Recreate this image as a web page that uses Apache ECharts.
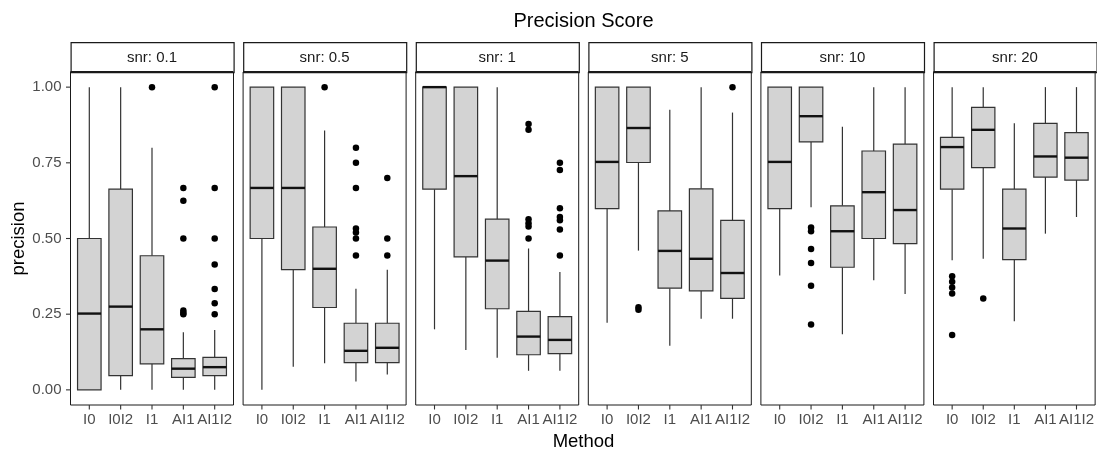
<!DOCTYPE html>
<html>
<head>
<meta charset="utf-8">
<script src="https://cdn.jsdelivr.net/npm/echarts@6/dist/echarts.min.js"></script>
<style>
  html, body { margin: 0; padding: 0; background: #ffffff; }
  #chart { width: 1097px; height: 450px; }
</style>
</head>
<body>
<div id="chart"></div>
<script>
// Methods on the x axis of every facet, and the facet levels
const methods = ['I0', 'I0I2', 'I1', 'AI1', 'AI1I2'];
const snrLevels = ['0.1', '0.5', '1', '5', '10', '20'];
const yTicks = [0, 0.25, 0.5, 0.75, 1];

// Box statistics per method: [lower whisker, Q1, median, Q3, upper whisker]
const boxSnr01 = [
  [0, 0, 0.252, 0.5, 1],
  [0, 0.047, 0.275, 0.663, 1],
  [0, 0.086, 0.2, 0.443, 0.8],
  [0, 0.041, 0.07, 0.103, 0.19],
  [0, 0.047, 0.075, 0.107, 0.198]
];
const boxSnr05 = [
  [0, 0.5, 0.667, 1, 1],
  [0.076, 0.397, 0.667, 1, 1],
  [0.088, 0.272, 0.4, 0.538, 0.857],
  [0.028, 0.09, 0.129, 0.22, 0.334],
  [0.051, 0.09, 0.139, 0.22, 0.397]
];
const boxSnr1 = [
  [0.2, 0.663, 1, 1, 1],
  [0.132, 0.439, 0.706, 1, 1],
  [0.106, 0.268, 0.427, 0.564, 1],
  [0.063, 0.116, 0.176, 0.259, 0.467],
  [0.063, 0.12, 0.165, 0.242, 0.389]
];
const boxSnr5 = [
  [0.222, 0.599, 0.753, 1, 1],
  [0.46, 0.751, 0.865, 1, 1],
  [0.146, 0.336, 0.459, 0.591, 0.925],
  [0.235, 0.327, 0.433, 0.664, 1],
  [0.235, 0.302, 0.386, 0.56, 0.916]
];
const boxSnr10 = [
  [0.378, 0.599, 0.753, 1, 1],
  [0.603, 0.819, 0.904, 1, 1],
  [0.184, 0.405, 0.524, 0.608, 0.869],
  [0.362, 0.5, 0.653, 0.789, 1],
  [0.317, 0.483, 0.594, 0.812, 1]
];
const boxSnr20 = [
  [0.428, 0.663, 0.802, 0.834, 1],
  [0.433, 0.734, 0.859, 0.933, 1],
  [0.227, 0.43, 0.533, 0.663, 0.881],
  [0.516, 0.703, 0.771, 0.88, 1],
  [0.571, 0.693, 0.767, 0.85, 1]
];

// Outlying points per method
const outSnr01 = [[], [], [1], [0.667, 0.625, 0.5, 0.262, 0.255, 0.25], [1, 0.667, 0.5, 0.414, 0.333, 0.286, 0.25]];
const outSnr05 = [[], [], [1], [0.8, 0.75, 0.667, 0.533, 0.52, 0.5, 0.444], [0.7, 0.5, 0.444]];
const outSnr1 = [[], [], [], [0.878, 0.859, 0.564, 0.55, 0.54, 0.5], [0.75, 0.726, 0.6, 0.571, 0.56, 0.53, 0.444]];
const outSnr5 = [[], [0.273, 0.265], [], [], [1]];
const outSnr10 = [[], [0.536, 0.524, 0.465, 0.419, 0.344, 0.216], [], [], []];
const outSnr20 = [[0.375, 0.357, 0.338, 0.318, 0.181], [0.302], [], [], []];

const boxStats = [boxSnr01, boxSnr05, boxSnr1, boxSnr5, boxSnr10, boxSnr20];
const outliers = [outSnr01, outSnr05, outSnr1, outSnr5, outSnr10, outSnr20];

// Layout of the facet panels (pixels)
const FONT = '"Liberation Sans", Arial, Helvetica, sans-serif';
const PANEL_LEFT = 70.5, PANEL_STEP = 172.6, PANEL_W = 163;
const PANEL_TOP = 72, PANEL_H = 333, STRIP_TOP = 42, STRIP_H = 30;
const EDGE = '#1a1a1a';
const X_MIN = -0.6, X_MAX = 4.6, Y_MIN = -0.05, Y_MAX = 1.05;
const TICK_LEN = 4.5, TICK_COLOR = '#333333';

function renderBox(params, api) {
  const i = api.value(0);
  const pt = k => api.coord([i, api.value(k)]);
  const lo = pt(1), q1 = pt(2), md = pt(3), q3 = pt(4), hi = pt(5);
  const cx = lo[0];
  const halfW = api.size([0.75, 0])[0] / 2;
  const stroke = '#333333';
  return {
    type: 'group',
    children: [
      { type: 'line', shape: { x1: cx, y1: hi[1], x2: cx, y2: q3[1] }, style: { stroke, lineWidth: 1.2 } },
      { type: 'line', shape: { x1: cx, y1: q1[1], x2: cx, y2: lo[1] }, style: { stroke, lineWidth: 1.2 } },
      { type: 'rect', shape: { x: cx - halfW, y: q3[1], width: 2 * halfW, height: q1[1] - q3[1] },
        style: { fill: '#D3D3D3', stroke, lineWidth: 1.2 } },
      { type: 'line', shape: { x1: cx - halfW, y1: md[1], x2: cx + halfW, y2: md[1] },
        style: { stroke: '#111111', lineWidth: 2.4 } }
    ]
  };
}

const grids = [], xAxes = [], yAxes = [], series = [], graphics = [];
const xIdx = methods.map((m, i) => i);

snrLevels.forEach((snr, k) => {
  const left = PANEL_LEFT + k * PANEL_STEP;
  grids.push({
    left: left, top: PANEL_TOP, width: PANEL_W, height: PANEL_H,
    show: true, borderColor: EDGE, borderWidth: 1
  });
  xAxes.push({
    gridIndex: k, type: 'value', min: X_MIN, max: X_MAX,
    splitLine: { show: false },
    axisLine: { show: false, onZero: false },
    axisTick: { show: false },
    axisLabel: {
      customValues: xIdx, formatter: v => methods[Math.round(v)],
      color: '#4D4D4D', fontSize: 15, fontFamily: FONT, margin: 7
    }
  });
  yAxes.push({
    gridIndex: k, type: 'value', min: Y_MIN, max: Y_MAX,
    splitLine: { show: false },
    axisLine: { show: false, onZero: false },
    axisTick: { show: false },
    axisLabel: {
      show: k === 0, customValues: yTicks, formatter: v => v.toFixed(2),
      color: '#4D4D4D', fontSize: 15, fontFamily: FONT, margin: 9
    }
  });
  series.push({
    type: 'custom', xAxisIndex: k, yAxisIndex: k,
    renderItem: renderBox,
    data: boxStats[k].map((s, i) => [i].concat(s)),
    z: 2, silent: true
  });
  const pts = [];
  outliers[k].forEach((vals, i) => vals.forEach(v => pts.push([i, v])));
  series.push({
    type: 'scatter', xAxisIndex: k, yAxisIndex: k,
    data: pts, symbol: 'circle', symbolSize: 6.5,
    itemStyle: { color: '#000000', opacity: 1 }, z: 3, silent: true
  });
  // facet strip
  graphics.push({
    type: 'rect', left: left, top: STRIP_TOP,
    shape: { width: PANEL_W, height: STRIP_H },
    style: { fill: '#ffffff', stroke: EDGE, lineWidth: 1.2 }
  });
  graphics.push({
    type: 'line', shape: { x1: left, y1: STRIP_TOP + STRIP_H, x2: left + PANEL_W, y2: STRIP_TOP + STRIP_H },
    style: { stroke: EDGE, lineWidth: 2 }
  });
  graphics.push({
    type: 'text', x: left + PANEL_W / 2, y: STRIP_TOP + STRIP_H / 2 + 0.5,
    style: { text: 'snr: ' + snr, fill: '#1A1A1A', font: '15px ' + FONT, textAlign: 'center', textVerticalAlign: 'middle' }
  });
});

const plotCenter = PANEL_LEFT + (5 * PANEL_STEP + PANEL_W) / 2;
graphics.push({
  type: 'text', x: plotCenter, y: 21,
  style: { text: 'Precision Score', fill: '#000000', font: '20px ' + FONT, textAlign: 'center', textVerticalAlign: 'middle' }
});
graphics.push({
  type: 'text', x: plotCenter, y: 442,
  style: { text: 'Method', fill: '#000000', font: '18.5px ' + FONT, textAlign: 'center', textVerticalAlign: 'middle' }
});
graphics.push({
  type: 'text', x: 19, y: PANEL_TOP + PANEL_H / 2, rotation: Math.PI / 2,
  style: { text: 'precision', fill: '#000000', font: '18.5px ' + FONT, textAlign: 'center', textVerticalAlign: 'middle' }
});

const chart = echarts.init(document.getElementById('chart'), null, { renderer: 'canvas' });
chart.setOption({
  animation: false,
  backgroundColor: '#ffffff',
  grid: grids,
  xAxis: xAxes,
  yAxis: yAxes,
  series: series,
  graphic: graphics
});

// Axis tick marks, placed through each panel's own coordinate system
const tickLines = [];
snrLevels.forEach((snr, k) => {
  xIdx.forEach(i => {
    const p = chart.convertToPixel({ gridIndex: k }, [i, Y_MIN]);
    tickLines.push({
      type: 'line', z: 100,
      shape: { x1: p[0], y1: p[1], x2: p[0], y2: p[1] + TICK_LEN },
      style: { stroke: TICK_COLOR, lineWidth: 1.1 }
    });
  });
});
yTicks.forEach(v => {
  const p = chart.convertToPixel({ gridIndex: 0 }, [X_MIN, v]);
  tickLines.push({
    type: 'line', z: 100,
    shape: { x1: p[0] - TICK_LEN, y1: p[1], x2: p[0], y2: p[1] },
    style: { stroke: TICK_COLOR, lineWidth: 1.1 }
  });
});
chart.setOption({ graphic: graphics.concat(tickLines) });
</script>
</body>
</html>
